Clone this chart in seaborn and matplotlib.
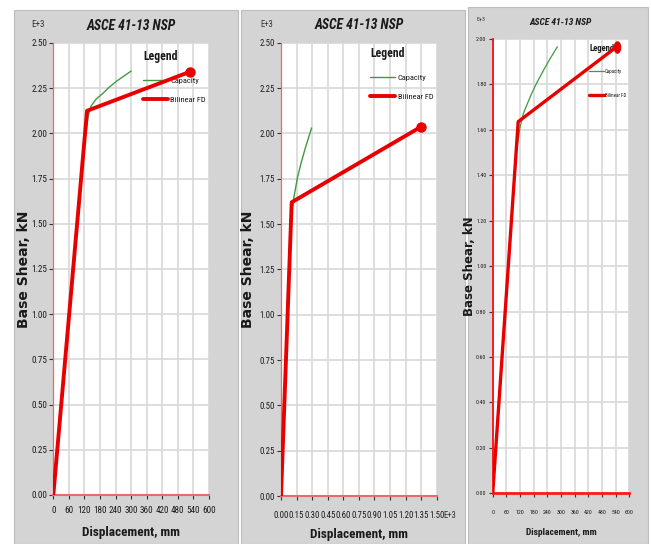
import matplotlib
matplotlib.use("Agg")
import matplotlib.pyplot as plt
from matplotlib.patches import Rectangle
from matplotlib.markers import MarkerStyle
from matplotlib.transforms import Affine2D
from matplotlib import font_manager
import seaborn as sns

# ---------------- data (base shear in E+3 kN) ----------------
# Panel 1 : displacement in mm
cap1_x = [0, 60, 120, 128, 135, 145, 165, 190, 215, 245, 275, 300]
cap1_y = [0, 0.98, 1.96, 2.03, 2.10, 2.15, 2.19, 2.22, 2.255, 2.29, 2.32, 2.345]
bil1_x = [0, 130, 525]
bil1_y = [0, 2.125, 2.34]

# Panel 2 : displacement in E+3 mm
cap2_x = [0, 0.06, 0.09, 0.105, 0.125, 0.16, 0.195, 0.24, 0.295]
cap2_y = [0, 0.95, 1.40, 1.56, 1.65, 1.76, 1.84, 1.93, 2.03]
bil2_x = [0, 0.103, 1.345]
bil2_y = [0, 1.62, 2.035]

# Panel 3 : displacement in mm
cap3_x = [0, 60, 100, 112, 120, 134, 150, 171, 195, 222, 250, 284]
cap3_y = [0, 0.88, 1.46, 1.56, 1.61, 1.67, 1.71, 1.76, 1.81, 1.86, 1.91, 1.966]
bil3_x = [0, 112, 545]
bil3_y = [0, 1.636, 1.966]

xticks_mm = [0, 60, 120, 180, 240, 300, 360, 420, 480, 540, 600]
xticks_e3 = [0.00, 0.15, 0.30, 0.45, 0.60, 0.75, 0.90, 1.05, 1.20, 1.35, 1.50]
yticks_25 = [0.00, 0.25, 0.50, 0.75, 1.00, 1.25, 1.50, 1.75, 2.00, 2.25, 2.50]
yticks_20 = [0.00, 0.20, 0.40, 0.60, 0.80, 1.00, 1.20, 1.40, 1.60, 1.80, 2.00]

TITLE = "ASCE 41-13 NSP"
XLABEL = "Displacement, mm"
YLABEL = "Base Shear, kN"
LEG_TITLE = "Legend"
LABEL_CAP = "Capacity"
LABEL_BIL = "Bilinear FD"

# ---------------- style ----------------
sns.set_theme(style="white")
installed = {f.name for f in font_manager.fontManager.ttflist}
narrow = next((n for n in ["Roboto Condensed", "Archivo Narrow", "PT Sans Narrow",
                           "Encode Sans Condensed", "Liberation Sans Narrow"]
               if n in installed), "Liberation Sans")
NARROW = [narrow, "Liberation Sans", "DejaVu Sans"]
WIDE = ["DejaVu Sans"]
plt.rcParams["font.family"] = NARROW

RED = "#e80000"
GREEN = "#3f9a3f"
GRID = "#d8d8d8"
SPINE = "#e86a6a"
PANEL = "#d4d4d4"
TXT = "#1a1a1a"

W, H = 651, 544
fig = plt.figure(figsize=(W / 100, H / 100), dpi=100)
fig.patch.set_facecolor("white")


def box(x0, y0, x1, y1):
    return [x0 / W, 1 - y1 / H, (x1 - x0) / W, (y1 - y0) / H]


# grey window frames behind each chart
for (x0, y0, x1, y1) in [(14, 10, 238, 544), (241, 10, 465, 544), (468, 7, 648, 544)]:
    fig.patches.append(Rectangle((x0 / W, 1 - y1 / H), (x1 - x0) / W, (y1 - y0) / H,
                                 transform=fig.transFigure, facecolor=PANEL,
                                 edgecolor="#bdbdbd", lw=0.8, zorder=-5))


def panel(rect, cx, cy, bx, by, xticks, xfmt, yticks, ylim, cfg):
    ax = fig.add_axes(box(*rect))
    ax.set_zorder(2)
    ax.set_facecolor("white")
    sns.lineplot(x=cx, y=cy, ax=ax, sort=False, estimator=None, color=GREEN,
                 lw=cfg["glw"], label=LABEL_CAP, zorder=3)
    sns.lineplot(x=bx, y=by, ax=ax, sort=False, estimator=None, color=RED,
                 lw=cfg["rlw"], label=LABEL_BIL, zorder=4, solid_capstyle="round")
    ax.plot(bx[-1:], by[-1:], linestyle="none", marker=cfg["marker"],
            ms=cfg["ms"], color=RED, zorder=5, clip_on=False)

    ax.set_xlim(xticks[0], xticks[-1])
    ax.set_ylim(*ylim)
    ax.set_xticks(xticks)
    ax.set_xticklabels([xfmt.format(v) for v in xticks])
    ax.set_yticks(yticks)
    ax.set_yticklabels(["{:.2f}".format(v) for v in yticks])
    ax.grid(True, color=GRID, lw=1.2)
    ax.set_axisbelow(True)
    ax.tick_params(axis="both", which="major", direction="out", length=3,
                   width=0.8, color="#333333", labelsize=cfg["tick"],
                   labelcolor=TXT, bottom=True, left=True)
    ax.tick_params(axis="x", pad=cfg["xpad"])
    ax.tick_params(axis="y", pad=1.5)
    for s in ("top", "right"):
        ax.spines[s].set_visible(False)
    ax.spines["left"].set_color(cfg["spine"])
    ax.spines["left"].set_linewidth(cfg["slw"])
    ax.spines["bottom"].set_color(cfg["spine"])
    ax.spines["bottom"].set_linewidth(cfg["slw"] + 0.6)

    ax.set_xlabel(XLABEL, fontsize=cfg["xl"], fontweight="bold", color=TXT)
    ax.xaxis.set_label_coords(0.5, cfg["xly"])
    ax.set_ylabel(YLABEL, fontsize=cfg["yl"], fontweight="bold", color=TXT,
                  family=WIDE)
    ax.yaxis.set_label_coords(cfg["ylx"], 0.5)
    ax.yaxis.label.set_va("center")
    ax.xaxis.label.set_va("center")

    ax.text(0.5, cfg["ty"], TITLE, transform=ax.transAxes, ha="center",
            va="center", fontsize=cfg["title"], fontweight="bold",
            fontstyle="italic", color=TXT)
    ax.text(cfg["ex"], cfg["ey"], "E+3", transform=ax.transAxes, ha="center",
            va="center", fontsize=cfg["tick"], color="#333333")

    leg = ax.legend(loc="upper left", bbox_to_anchor=cfg["leg"], frameon=False,
                    title=LEG_TITLE, alignment="left", borderpad=0,
                    borderaxespad=0, fontsize=cfg["lf"],
                    title_fontproperties={"size": cfg["lt"], "weight": "bold"},
                    handlelength=cfg["hl"], handletextpad=0.3,
                    labelspacing=cfg["ls"])
    leg.set_zorder(1)
    leg._legend_box.sep = cfg["tsep"]
    for t in leg.get_texts():
        t.set_color(TXT)
    leg.get_title().set_color(TXT)
    return ax


ellipse = MarkerStyle("o", transform=Affine2D().scale(0.55, 1.0))

ax1 = panel((53.3, 43, 209, 495), cap1_x, cap1_y, bil1_x, bil1_y,
            xticks_mm, "{:d}", yticks_25, (0, 2.5),
            dict(glw=1.0, rlw=2.8, marker="o", ms=6.5, tick=6.6, xpad=5,
                 spine=SPINE, slw=0.9, xl=9.5, xly=-0.084, yl=10, ylx=-0.19,
                 ty=1.038, title=9.8, ex=-0.098, ey=1.04,
                 leg=(0.576, 0.985), lf=6, lt=8.5, hl=3.0, ls=1.5, tsep=10))

ax2 = panel((281, 42.7, 436.7, 496), cap2_x, cap2_y, bil2_x, bil2_y,
            xticks_e3, "{:.2f}", yticks_25, (0, 2.5),
            dict(glw=1.0, rlw=2.8, marker="o", ms=6.5, tick=6.3, xpad=8,
                 spine=SPINE, slw=0.9, xl=9.5, xly=-0.086, yl=10, ylx=-0.21,
                 ty=1.040, title=9.8, ex=-0.09, ey=1.04,
                 leg=(0.572, 0.99), lf=6, lt=8.5, hl=3.0, ls=1.5, tsep=10))
ax2.text(1.045, -0.042, "E+3", transform=ax2.transAxes, ha="left", va="center",
         fontsize=6.3, color="#333333", clip_on=False)

ax3 = panel((492.7, 39, 629.3, 493.3), cap3_x, cap3_y, bil3_x, bil3_y,
            xticks_mm, "{:d}", yticks_20, (0, 2.0),
            dict(glw=0.9, rlw=2.4, marker=ellipse, ms=8, tick=4.2, xpad=9,
                 spine="#ff1a1a", slw=1.4, xl=6.8, xly=-0.087, yl=8.5, ylx=-0.172,
                 ty=1.036, title=6.8, ex=-0.086, ey=1.044,
                 leg=(0.705, 0.988), lf=3.6, lt=6.2, hl=2.9, ls=3.8, tsep=11))

fig.savefig("out.png", dpi=100, facecolor="white")
